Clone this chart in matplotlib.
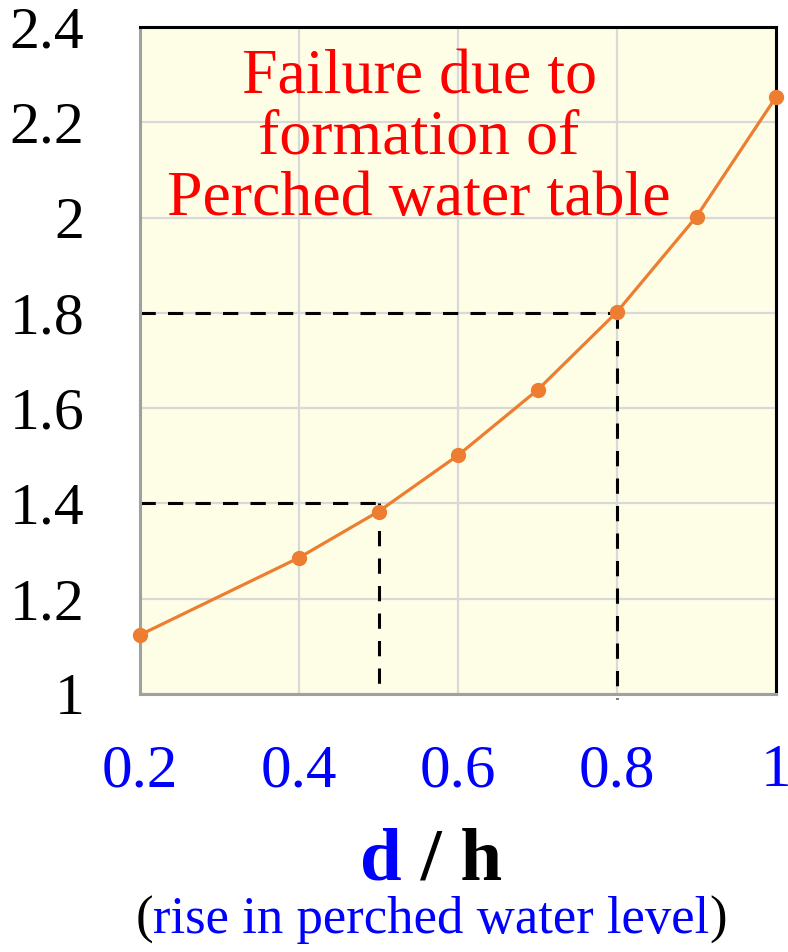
import matplotlib
matplotlib.use("Agg")
import matplotlib.pyplot as plt

plt.rcParams['font.family'] = ['Liberation Serif', 'DejaVu Serif']

# data
d_over_h = [0.2, 0.4, 0.5, 0.6, 0.7, 0.8, 0.9, 1.0]
factor = [1.124, 1.286, 1.383, 1.501, 1.638, 1.802, 2.002, 2.253]
x_ticks = [0.2, 0.4, 0.6, 0.8, 1.0]
x_labels = ['0.2', '0.4', '0.6', '0.8', '1']
y_ticks = [1.0, 1.2, 1.4, 1.6, 1.8, 2.0, 2.2, 2.4]
y_labels = ['1', '1.2', '1.4', '1.6', '1.8', '2', '2.2', '2.4']
# dashed guide lines: (x, y, where the vertical part stops)
guides = [(0.5, 1.4, 1.02), (0.8, 1.8, 0.99)]
note_lines = ["Failure due to", "formation of", "Perched water table"]

fig = plt.figure(figsize=(7.88, 9.52), dpi=100)
ax = fig.add_axes([140/788, 1-694/952, 636/788, 667/952])
ax.set_facecolor('#FEFEE6')

ax.set_xlim(0.2, 1.0)
ax.set_ylim(1.0, 2.4)
ax.set_xticks(x_ticks)
ax.set_xticklabels(x_labels, color='blue', fontsize=44)
ax.set_yticks(y_ticks)
ax.set_yticklabels(y_labels, fontsize=43)
ax.tick_params(axis='y', length=0, pad=40)
ax.tick_params(axis='x', length=0, pad=36)
ax.grid(True, color='#d9d9d9', lw=1.6, zorder=0)
ax.set_axisbelow(True)

for side in ['top', 'right']:
    ax.spines[side].set_color('black')
    ax.spines[side].set_linewidth(2.2)
for side in ['left', 'bottom']:
    ax.spines[side].set_color('#a0a0a0')
    ax.spines[side].set_linewidth(2.2)

# dashed guides
for gx, gy, ybot in guides:
    ax.plot([0.2, gx], [gy, gy], color='black', lw=2.2, ls=(0, (5, 4)), zorder=2)
    ax.plot([gx, gx], [gy, ybot], color='black', lw=2.2, ls=(0, (5, 4)),
            zorder=2, clip_on=False)

ax.plot(d_over_h, factor, color='#ED7D31', lw=2.3, marker='o', ms=10,
        zorder=3, clip_on=False)

for i, line in enumerate(note_lines):
    fig.text(419/788, 1 - (93 + 61*i)/952, line, color='red', fontsize=46,
             ha='center', va='baseline')

# x axis title with mixed colours
fig.canvas.draw()
r = fig.canvas.get_renderer()

def row(parts, y, size, weight):
    texts = [fig.text(0, y, s, color=c, fontsize=size, weight=weight,
                      ha='left', va='center') for s, c in parts]
    widths = [t.get_window_extent(r).width for t in texts]
    total = sum(widths)
    x = 431 - total / 2
    for t, w in zip(texts, widths):
        t.set_x(x / 788)
        x += w

row([('d', 'blue'), (' / h', 'black')], 1 - 862/952, 54, 'bold')
row([('(', 'black'), ('rise in perched water level', 'blue'), (')', 'black')],
    1 - 920/952, 38, 'normal')

fig.savefig('out.png', dpi=100)
